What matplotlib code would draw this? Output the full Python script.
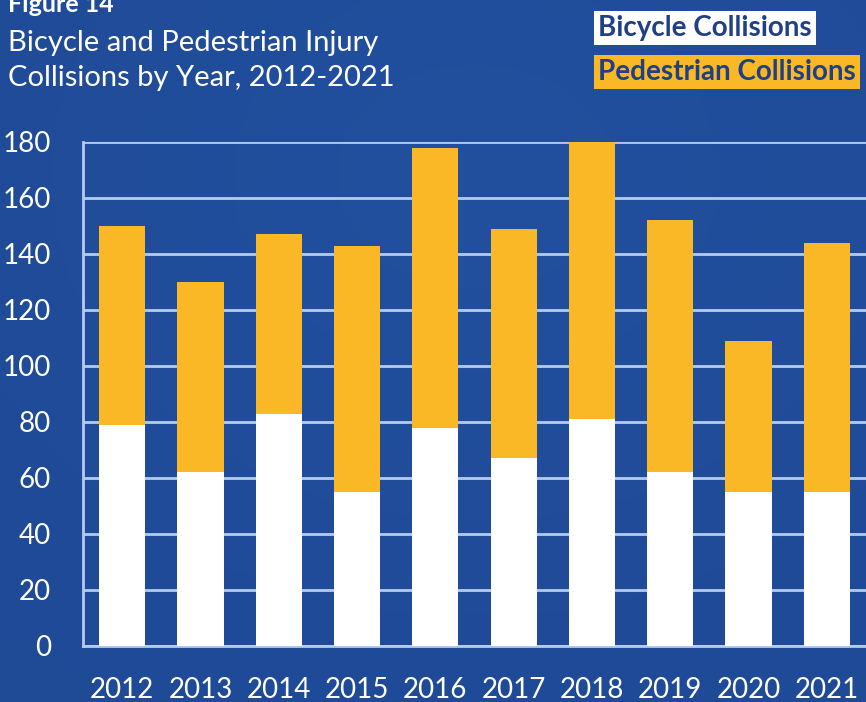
import numpy as np
import matplotlib
matplotlib.use("Agg")
import matplotlib.pyplot as plt

years = ["2012", "2013", "2014", "2015", "2016", "2017", "2018", "2019", "2020", "2021"]
bicycle = [79, 62, 83, 55, 78, 67, 81, 62, 55, 55]
pedestrian = [71, 68, 64, 88, 100, 82, 99, 90, 54, 89]
yticks = [0, 20, 40, 60, 80, 100, 120, 140, 160, 180]

gold = "#fbb826"
text_blue = "#1f3f86"
grid_col = "#b4cbef"

plt.rcParams["font.family"] = ["Lato", "DejaVu Sans"]

fig = plt.figure(figsize=(8.66, 7.02), dpi=100)

# soft blue background
bg = fig.add_axes([0, 0, 1, 1])
gx = np.linspace(0, 1, 200)
gy = np.linspace(0, 1, 200)
X, Y = np.meshgrid(gx, gy)
shade = 0.55 + 0.25 * np.exp(-((X - 0.55) ** 2 + (Y - 0.75) ** 2) / 0.25)
base = np.array([0.10, 0.24, 0.53])
top = np.array([0.14, 0.33, 0.64])
img = base[None, None, :] * (1 - shade[..., None]) + top[None, None, :] * shade[..., None]
bg.imshow(img, extent=[0, 1, 0, 1], aspect="auto", origin="lower")
bg.axis("off")

ax = fig.add_axes([83 / 866, 56 / 702, 783 / 866, 504 / 702])
ax.set_facecolor("none")
x = np.arange(len(years))
ax.bar(x, bicycle, width=0.59, color="white", zorder=3)
ax.bar(x, pedestrian, bottom=bicycle, width=0.59, color=gold, zorder=3)

ax.set_xlim(-0.5, len(years) - 0.5)
ax.set_ylim(0, 180)
ax.set_yticks(yticks)
ax.set_yticklabels([str(v) for v in yticks])
ax.set_xticks(x)
ax.set_xticklabels(years)
ax.yaxis.grid(True, color=grid_col, linewidth=2, zorder=1)
ax.tick_params(axis="both", length=0, colors="white", labelsize=20)
ax.tick_params(axis="y", pad=23)
ax.tick_params(axis="x", pad=22)
for side in ["top", "right"]:
    ax.spines[side].set_visible(False)
ax.spines["left"].set_color(grid_col)
ax.spines["left"].set_linewidth(2)
ax.spines["bottom"].set_color(grid_col)
ax.spines["bottom"].set_linewidth(2)

fig.text(8 / 866, 1 - 4 / 702, "Figure 14", color="white", fontsize=18,
         fontweight="bold", va="center", ha="left")
fig.text(8 / 866, 1 - 43 / 702, "Bicycle and Pedestrian Injury", color="white",
         fontsize=21, va="center", ha="left")
fig.text(8 / 866, 1 - 78 / 702, "Collisions by Year, 2012-2021", color="white",
         fontsize=21, va="center", ha="left")

fig.text(598 / 866, 1 - 28 / 702, "Bicycle Collisions", color=text_blue,
         fontsize=20, fontweight="bold", va="center", ha="left",
         bbox=dict(boxstyle="square,pad=0.15", facecolor="white", edgecolor="none"))
fig.text(598 / 866, 1 - 72 / 702, "Pedestrian Collisions", color=text_blue,
         fontsize=20, fontweight="bold", va="center", ha="left",
         bbox=dict(boxstyle="square,pad=0.15", facecolor=gold, edgecolor="none"))

fig.savefig("out.png", dpi=100)
